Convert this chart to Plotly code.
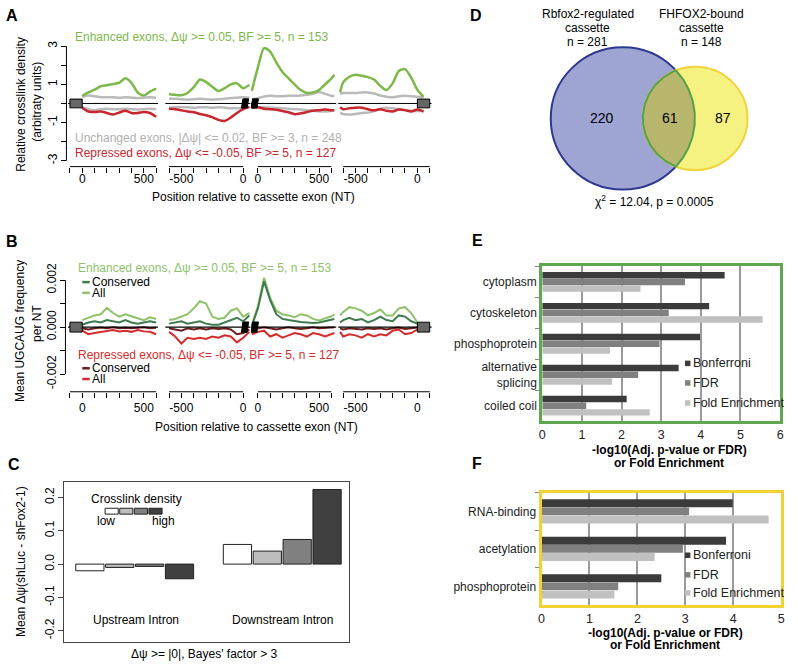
import numpy as np
import plotly.graph_objects as go

W, H = 798, 666
FONT = "Arial, Liberation Sans, Helvetica, sans-serif"

# ======================= DATA =======================
# ---- Panel A: relative crosslink density, four intronic windows (nt) ----
A_X1 = [0, 50, 100, 150, 200, 250, 300, 350, 400, 450, 500, 550, 600]
A_X2 = [-600, -550, -500, -450, -400, -350, -300, -250, -200, -150, -100, -50, 0, 50]
A_X3 = [-50, 0, 50, 100, 150, 200, 250, 300, 350, 400, 450, 500, 550, 600, 625]
A_X4 = [-625, -600, -550, -500, -450, -400, -350, -300, -250, -200, -150, -100, -50, 0, 50]

A_ENH_1 = [0.40, 0.58, 0.72, 0.90, 0.95, 1.02, 1.08, 1.32, 1.08, 0.58, 0.42, 0.62, 0.78]
A_UNC_UP_1 = [0.35, 0.42, 0.38, 0.33, 0.32, 0.33, 0.30, 0.32, 0.30, 0.28, 0.30, 0.32, 0.30]
A_UNC_DN_1 = [-0.20, -0.30, -0.35, -0.30, -0.28, -0.30, -0.30, -0.28, -0.30, -0.32, -0.30, -0.28, -0.30]
A_REP_1 = [-0.22, -0.42, -0.45, -0.42, -0.50, -0.58, -0.48, -0.38, -0.50, -0.50, -0.45, -0.50, -0.70]

A_ENH_2 = [0.50, 0.45, 0.43, 0.55, 0.85, 1.25, 1.12, 0.88, 0.65, 0.80, 1.00, 1.05, 0.80, 0.98]
A_UNC_UP_2 = [0.25, 0.25, 0.22, 0.20, 0.22, 0.25, 0.22, 0.20, 0.22, 0.25, 0.28, 0.30, 0.32, 0.30]
A_UNC_DN_2 = [-0.22, -0.20, -0.18, -0.20, -0.22, -0.20, -0.20, -0.22, -0.20, -0.22, -0.25, -0.25, -0.22, -0.20]
A_REP_2 = [-0.28, -0.30, -0.36, -0.42, -0.46, -0.55, -0.62, -0.72, -0.86, -0.92, -0.74, -0.50, -0.30, -0.18]

A_ENH_3 = [0.65, 1.90, 2.90, 2.72, 2.15, 1.65, 1.32, 1.00, 0.70, 0.55, 0.58, 0.70, 1.00, 1.30, 1.50]
A_UNC_UP_3 = [0.20, 0.28, 0.36, 0.40, 0.38, 0.38, 0.40, 0.40, 0.42, 0.45, 0.50, 0.60, 0.50, 0.40, 0.38]
A_UNC_DN_3 = [-0.18, -0.20, -0.20, -0.22, -0.24, -0.25, -0.28, -0.30, -0.32, -0.35, -0.38, -0.42, -0.42, -0.38, -0.36]
A_REP_3 = [-0.20, -0.20, -0.28, -0.30, -0.33, -0.40, -0.46, -0.56, -0.52, -0.45, -0.38, -0.35, -0.32, -0.35, -0.36]

A_ENH_4 = [0.58, 1.10, 1.40, 1.50, 1.45, 1.38, 1.25, 0.92, 0.70, 1.05, 1.70, 1.80, 1.35, 0.72, 0.35]
A_UNC_UP_4 = [0.50, 0.55, 0.55, 0.55, 0.58, 0.58, 0.52, 0.42, 0.35, 0.32, 0.38, 0.40, 0.38, 0.35, 0.32]
A_UNC_DN_4 = [-0.50, -0.55, -0.58, -0.55, -0.50, -0.48, -0.40, -0.28, -0.22, -0.25, -0.30, -0.35, -0.38, -0.40, -0.40]
A_REP_4 = [-0.20, -0.30, -0.25, -0.22, -0.22, -0.30, -0.36, -0.30, -0.38, -0.42, -0.32, -0.35, -0.42, -0.32, -0.42]

# ---- Panel B: mean UGCAUG frequency per nt (values in units of 1e-3) ----
B_X1 = [0, 50, 100, 150, 200, 250, 300, 350, 400, 450, 500, 550, 600]
B_X2 = [-600, -550, -500, -450, -400, -350, -300, -250, -200, -150, -100, -50, 0, 50]
B_X3 = [-50, 0, 50, 100, 150, 200, 250, 300, 350, 400, 450, 500, 550, 600, 625]
B_X4 = [-625, -600, -550, -500, -450, -400, -350, -300, -250, -200, -150, -100, -50, 0]

B_ENH_ALL_1 = [0.30, 0.40, 0.50, 0.55, 0.82, 0.60, 0.45, 0.55, 0.45, 0.38, 0.30, 0.42, 0.35]
B_ENH_CON_1 = [0.10, 0.20, 0.25, 0.20, 0.30, 0.25, 0.20, 0.30, 0.20, 0.15, 0.20, 0.25, 0.20]
B_REP_ALL_1 = [-0.15, -0.30, -0.25, -0.20, -0.15, -0.12, -0.18, -0.15, -0.20, -0.12, -0.18, -0.20, -0.30]
B_REP_CON_1 = [-0.05, -0.10, -0.05, -0.02, -0.05, 0.00, -0.05, -0.03, -0.05, -0.02, 0.00, -0.05, -0.03]

B_ENH_ALL_2 = [0.30, 0.35, 0.45, 0.55, 0.80, 1.10, 1.00, 0.45, 0.35, 0.40, 0.70, 0.80, 0.45, 0.60]
B_ENH_CON_2 = [0.15, 0.20, 0.25, 0.15, 0.20, 0.25, 0.15, 0.10, 0.10, 0.20, 0.30, 0.40, 0.25, 0.50]
B_REP_ALL_2 = [-0.20, -0.40, -0.70, -0.45, -0.50, -0.45, -0.50, -0.40, -0.45, -0.35, -0.40, -0.65, -0.45, -0.20]
B_REP_CON_2 = [-0.05, -0.10, -0.15, -0.05, -0.10, -0.05, -0.10, -0.05, -0.08, -0.05, -0.10, -0.30, -0.25, -0.10]

B_ENH_ALL_3 = [0.10, 0.90, 2.10, 1.25, 0.70, 0.55, 0.50, 0.42, 0.55, 0.50, 0.35, 0.28, 0.38, 0.45, 0.55]
B_ENH_CON_3 = [0.05, 0.80, 1.95, 1.15, 0.55, 0.35, 0.30, 0.25, 0.22, 0.20, 0.18, 0.20, 0.25, 0.30, 0.35]
B_REP_ALL_3 = [-0.30, -0.20, -0.15, -0.40, -0.30, -0.45, -0.35, -0.25, -0.30, -0.40, -0.25, -0.30, -0.40, -0.30, -0.25]
B_REP_CON_3 = [-0.10, -0.05, 0.00, -0.05, -0.10, -0.05, 0.00, -0.05, -0.08, -0.05, 0.00, -0.05, -0.05, -0.02, 0.00]

B_ENH_ALL_4 = [0.50, 0.65, 0.85, 0.80, 0.70, 0.50, 0.60, 0.75, 0.50, 0.50, 0.80, 0.85, 0.60, 0.20]
B_ENH_CON_4 = [0.20, 0.30, 0.40, 0.30, 0.35, 0.20, 0.30, 0.45, 0.30, 0.25, 0.50, 0.45, 0.25, 0.15]
B_REP_ALL_4 = [-0.20, -0.40, -0.30, -0.35, -0.45, -0.30, -0.40, -0.30, -0.35, -0.15, -0.10, -0.30, -0.25, -0.10]
B_REP_CON_4 = [-0.05, -0.10, -0.05, -0.08, -0.10, -0.05, -0.08, -0.05, -0.10, -0.05, -0.02, -0.08, -0.05, -0.02]
B_UNIT = 1e-3

# ---- Panel C: mean delta-psi by crosslink density quartile ----
C_GROUPS = ["Upstream Intron", "Downstream Intron"]
C_Q1 = [-0.020, 0.059]
C_Q2 = [-0.010, 0.039]
C_Q3 = [-0.007, 0.074]
C_Q4 = [-0.044, 0.224]

# ---- Panel D: Venn counts ----
D_REGULATED = 281
D_BOUND = 148
D_ONLY_REG = 220
D_BOTH = 61
D_ONLY_BOUND = 87

# ---- Panel E / F: GO enrichment ----
E_TERMS = ["cytoplasm", "cytoskeleton", "phosphoprotein", "alternative<br>splicing", "coiled coil"]
E_BONF = [4.60, 4.21, 3.98, 3.44, 2.13]
E_FDR = [3.60, 3.19, 2.96, 2.42, 1.11]
E_FOLD = [2.48, 5.56, 1.71, 1.76, 2.71]

F_TERMS = ["RNA-binding", "acetylation", "phosphoprotein"]
F_BONF = [3.99, 3.85, 2.50]
F_FDR = [3.08, 2.95, 1.60]
F_FOLD = [4.74, 2.36, 1.52]

SERIES_NAMES = ["Bonferroni", "FDR", "Fold Enrichment"]

# ======================= STYLE =======================
A_GREEN, A_GREY, A_RED = "#7cb84a", "#bababa", "#c9262d"
B_G_ALL, B_G_CON, B_R_ALL, B_R_CON = "#8dc26a", "#3e7a4c", "#d42b2b", "#6b1d1d"
C_COLORS = ["#ffffff", "#bdbdbd", "#808080", "#404040"]
EF_COLORS = ["#3b3b3b", "#808080", "#c0c0c0"]


def PX(px):
    return px / W


def PY(py):
    return 1 - py / H


fig = go.Figure()
layout = dict(width=W, height=H, margin=dict(l=0, r=0, t=0, b=0),
              paper_bgcolor="white", plot_bgcolor="white", showlegend=False,
              barmode="overlay", font=dict(family=FONT, size=12, color="black"))
shapes, ann = [], []


def text(px, py, s, size=12, color="black", xa="center", ya="middle", angle=0):
    ann.append(dict(x=PX(px), y=PY(py), xref="paper", yref="paper", text=s, showarrow=False,
                    xanchor=xa, yanchor=ya, textangle=angle, borderpad=0,
                    font=dict(size=size, color=color, family=FONT)))


# ---------- segment axes geometry (shared by A and B) ----------
SEG_TICK_NT = [(-100, 600), (-600, 0), (0, 600), (-600, 100)]
SEG_TICK_PX = [(67.5, 154.5), (167.5, 242.3), (257.2, 331.2), (343.2, 430.5)]
SEG_RANGE = [(-115, 615), (-630, 55), (-60, 640), (-640, 115)]


def seg_domain(i):
    (n0, n1), (p0, p1), (r0, r1) = SEG_TICK_NT[i], SEG_TICK_PX[i], SEG_RANGE[i]
    k = (p1 - p0) / (n1 - n0)
    return [PX(p0 + (r0 - n0) * k), PX(p0 + (r1 - n0) * k)]


def seg_axes(first_idx, yname, axis_py, y_half_box, y_half_mark, zero_w, standoff):
    for i in range(4):
        n = first_idx + i
        key = "xaxis" if n == 1 else f"xaxis{n}"
        ref = "x" if n == 1 else f"x{n}"
        t0, t1 = SEG_TICK_NT[i]
        tv = [v for v in (-500, 0, 500) if t0 <= v <= t1]
        layout[key] = dict(domain=seg_domain(i), range=list(SEG_RANGE[i]), anchor="free",
                           position=PY(axis_py), tickmode="array", tickvals=tv,
                           ticktext=[str(v) for v in tv], ticklabelstandoff=standoff,
                           ticks="outside", ticklen=5, tickwidth=1, tickcolor="black",
                           minor=dict(tick0=0, dtick=100, ticks="outside", ticklen=5,
                                      tickwidth=1, tickcolor="black", showgrid=False),
                           showline=False, showgrid=False, zeroline=False,
                           tickfont=dict(size=12, color="black"))
        shapes.append(dict(type="line", xref=ref, yref="paper", x0=t0, x1=t1,
                           y0=PY(axis_py), y1=PY(axis_py), line=dict(color="black", width=1)))
        shapes.append(dict(type="line", xref=f"{ref} domain", yref=yname, x0=0, x1=1, y0=0, y1=0,
                           line=dict(color="black", width=zero_w)))
        if i == 0:
            shapes.append(dict(type="rect", xref=ref, yref=yname, x0=-100, x1=0,
                               y0=-y_half_box, y1=y_half_box, fillcolor="#666666",
                               line=dict(color="black", width=1)))
        if i == 3:
            shapes.append(dict(type="rect", xref=ref, yref=yname, x0=0, x1=100,
                               y0=-y_half_box, y1=y_half_box, fillcolor="#666666",
                               line=dict(color="black", width=1)))
        if i == 1:
            h = y_half_mark
            shapes.append(dict(type="path", xref=ref, yref=yname, fillcolor="black",
                               line=dict(color="black", width=1),
                               path=f"M -14,{-h} L 32,{-h} L 44,{h} L -2,{h} Z"))
        if i == 2:
            h = y_half_mark
            shapes.append(dict(type="path", xref=ref, yref=yname, fillcolor="black",
                               line=dict(color="black", width=1),
                               path=f"M -56,{-h} L -8,{-h} L 4,{h} L -44,{h} Z"))


# ======================= PANEL A =======================
seg_axes(1, "y", 162, 0.23, 0.24, 1, -4)
layout["yaxis"] = dict(domain=[PY(161.85), PY(33.15)], range=[-3.3, 3.3], anchor="free",
                       position=PX(64), tickmode="array", tickvals=[-3, -1, 1, 3],
                       ticktext=["-3", "-1", "1", "3"], ticks="outside", ticklen=5,
                       tickcolor="black", tickangle=-90, showline=False, showgrid=False,
                       minor=dict(tick0=0, dtick=1, ticks="outside", ticklen=5,
                                  tickcolor="black", showgrid=False),
                       zeroline=False, tickfont=dict(size=12, color="black"))
shapes.append(dict(type="line", xref="paper", yref="y", x0=PX(64), x1=PX(64), y0=-3, y1=3,
                   line=dict(color="black", width=1)))

A_SEGS = [(A_X1, A_ENH_1, A_UNC_UP_1, A_UNC_DN_1, A_REP_1),
          (A_X2, A_ENH_2, A_UNC_UP_2, A_UNC_DN_2, A_REP_2),
          (A_X3, A_ENH_3, A_UNC_UP_3, A_UNC_DN_3, A_REP_3),
          (A_X4, A_ENH_4, A_UNC_UP_4, A_UNC_DN_4, A_REP_4)]
for i, (xs, enh, uup, udn, rep) in enumerate(A_SEGS):
    xr = "x" if i == 0 else f"x{i + 1}"
    for ys, col in [(uup, A_GREY), (udn, A_GREY), (enh, A_GREEN), (rep, A_RED)]:
        fig.add_trace(go.Scatter(x=xs, y=ys, xaxis=xr, yaxis="y", mode="lines",
                                 line=dict(color=col, width=2.5, shape="spline", smoothing=0.7),
                                 hoverinfo="skip"))

text(2, 8, "<b>A</b>", size=16, xa="left")
text(72, 30, "Enhanced exons, Δψ >= 0.05, BF >= 5, n = 153", color=A_GREEN, xa="left")
text(72, 133, "Unchanged exons, |Δψ| <= 0.02, BF >= 3, n = 248", color="#b0b0b0", xa="left")
text(72, 148, "Repressed exons, Δψ <= -0.05, BF >= 5, n = 127", color=A_RED, xa="left")
text(253, 193, "Position relative to cassette exon (NT)")
text(18, 98, "Relative crosslink density", angle=-90)
text(34, 96, "(arbitraty units)", angle=-90)

# ======================= PANEL B =======================
seg_axes(5, "y2", 392, 0.21 * B_UNIT, 0.22 * B_UNIT, 1.2, 0)
layout["yaxis2"] = dict(domain=[PY(383.6), PY(268.4)], range=[-2.4 * B_UNIT, 2.4 * B_UNIT],
                        anchor="free", position=PX(63), tickmode="array",
                        tickvals=[-0.002, 0, 0.002],
                        ticktext=["-0.002", "0.000", "0.002"], ticks="outside",
                        ticklen=5, tickcolor="black", tickangle=-90, showline=False,
                        minor=dict(tick0=0, dtick=0.001, ticks="outside", ticklen=5,
                                   tickcolor="black", showgrid=False),
                        showgrid=False, zeroline=False, tickfont=dict(size=12, color="black"))
shapes.append(dict(type="line", xref="paper", yref="y2", x0=PX(63), x1=PX(63), y0=-0.002,
                   y1=0.002, line=dict(color="black", width=1)))

B_SEGS = [(B_X1, B_ENH_ALL_1, B_ENH_CON_1, B_REP_ALL_1, B_REP_CON_1),
          (B_X2, B_ENH_ALL_2, B_ENH_CON_2, B_REP_ALL_2, B_REP_CON_2),
          (B_X3, B_ENH_ALL_3, B_ENH_CON_3, B_REP_ALL_3, B_REP_CON_3),
          (B_X4, B_ENH_ALL_4, B_ENH_CON_4, B_REP_ALL_4, B_REP_CON_4)]
for i, (xs, eall, econ, rall, rcon) in enumerate(B_SEGS):
    xr = f"x{i + 5}"
    for ys, col in [(eall, B_G_ALL), (econ, B_G_CON), (rall, B_R_ALL), (rcon, B_R_CON)]:
        fig.add_trace(go.Scatter(x=xs, y=np.array(ys) * B_UNIT, xaxis=xr, yaxis="y2",
                                 mode="lines", line=dict(color=col, width=2),
                                 hoverinfo="skip"))

text(2, 239, "<b>B</b>", size=16, xa="left")
text(75, 266, "Enhanced exons, Δψ >= 0.05, BF >= 5, n = 153", color=B_G_ALL, xa="left")
text(75, 354, "Repressed exons, Δψ <= -0.05, BF >= 5, n = 127", color=B_R_ALL, xa="left")
for py, col, lab in [(280, B_G_CON, "Conserved"), (291, B_G_ALL, "All"),
                     (368, B_R_CON, "Conserved"), (379, B_R_ALL, "All")]:
    shapes.append(dict(type="line", xref="paper", yref="paper", x0=PX(80), x1=PX(87.5),
                       y0=PY(py), y1=PY(py), line=dict(color=col, width=2.5)))
    text(89, py, lab, size=12, xa="left")
text(256, 428, "Position relative to cassette exon (NT)")
text(17, 330, "Mean UGCAUG frequency", angle=-90)
text(35, 322, "per NT", angle=-90)

# ======================= PANEL C =======================
C_SLOT = 0.2025
C_W = C_SLOT * 0.945
for j, (vals, col) in enumerate(zip([C_Q1, C_Q2, C_Q3, C_Q4], C_COLORS)):
    fig.add_trace(go.Bar(x=C_GROUPS, y=vals, xaxis="x9", yaxis="y3", width=C_W,
                         offset=-2 * C_SLOT + j * C_SLOT + (C_SLOT - C_W) / 2,
                         marker=dict(color=col, line=dict(color="#222222", width=1)),
                         hoverinfo="skip"))
layout["xaxis9"] = dict(domain=[PX(62), PX(349)], range=[-0.476, 1.452], anchor="y3",
                        type="category", showticklabels=False, ticks="", showgrid=False,
                        zeroline=False, showline=True, mirror=True, linecolor="#444444",
                        linewidth=1)
layout["yaxis3"] = dict(domain=[PY(648), PY(484)], range=[-0.235, 0.247], anchor="x9",
                        tickmode="array", tickvals=[-0.2, -0.1, 0, 0.1, 0.2],
                        ticktext=["-0.2", "-0.1", "0.0", "0.1", "0.2"], ticks="outside",
                        ticklen=5, tickcolor="#444444", tickangle=-90, showgrid=False,
                        zeroline=False, showline=True, mirror=True, linecolor="#444444",
                        linewidth=1, tickfont=dict(size=12, color="black"))
text(4, 466, "<b>C</b>", size=16, xa="left")
text(135, 502, "Crosslink density")
for j, col in enumerate(C_COLORS):
    shapes.append(dict(type="rect", xref="paper", yref="paper",
                       x0=PX(103 + j * 14.75), x1=PX(103 + (j + 1) * 14.75 - 1.5),
                       y0=PY(517), y1=PY(511), fillcolor=col,
                       line=dict(color="#222222", width=1)))
text(104, 524, "low")
text(162, 524, "high")
for g, cx in zip(C_GROUPS, [134.5, 282.2]):
    text(cx, 625, g)
text(203, 660, "Δψ >= |0|, Bayes' factor > 3")
text(18, 565, "Mean Δψ(shLuc - shFox2-1)", angle=-90)

# ======================= PANEL D =======================
VENN_PX_PER_SQRT = 4.337
VENN_DIST = 73.0
r1 = VENN_PX_PER_SQRT * np.sqrt(D_REGULATED)
r2 = VENN_PX_PER_SQRT * np.sqrt(D_BOUND)
c1 = (625.3, 112.8)
c2 = (c1[0] + VENN_DIST, c1[1])
layout["xaxis10"] = dict(domain=[PX(540), PX(770)], range=[540, 770], anchor="y4", visible=False)
layout["yaxis4"] = dict(domain=[PY(200), PY(25)], range=[200, 25], anchor="x10", visible=False)
shapes.append(dict(type="circle", xref="x10", yref="y4", layer="below",
                   x0=c1[0] - r1, x1=c1[0] + r1, y0=c1[1] - r1, y1=c1[1] + r1,
                   fillcolor="#9ea5d2", line=dict(color="#2d3990", width=2)))
shapes.append(dict(type="circle", xref="x10", yref="y4", layer="below",
                   x0=c2[0] - r2, x1=c2[0] + r2, y0=c2[1] - r2, y1=c2[1] + r2,
                   fillcolor="#f6f282", line=dict(color="#f0d33a", width=2)))
d = VENN_DIST
a = (d * d + r1 * r1 - r2 * r2) / (2 * d)
h = np.sqrt(r1 * r1 - a * a)
t1 = np.arctan2(h, a)
t2 = np.arctan2(h, d - a)
ang1 = np.linspace(-t1, t1, 80)
ang2 = np.linspace(np.pi - t2, np.pi + t2, 80)
lx = np.concatenate([c1[0] + r1 * np.cos(ang1), c2[0] + r2 * np.cos(ang2)])
ly = np.concatenate([c1[1] + r1 * np.sin(ang1), c2[1] + r2 * np.sin(ang2)])
fig.add_trace(go.Scatter(x=lx, y=ly, xaxis="x10", yaxis="y4", mode="lines", fill="toself",
                         fillcolor="#b8b66c", line=dict(color="#55a04a", width=2),
                         hoverinfo="skip"))
text(470, 8, "<b>D</b>", size=16, xa="left")
text(590, 6, "Rbfox2-regulated")
text(590, 20.5, "cassette")
text(590, 34.5, f"n = {D_REGULATED}")
text(705, 6, "FHFOX2-bound")
text(705, 20.5, "cassette")
text(705, 34.5, f"n = {D_BOUND}")
text(604, 112, str(D_ONLY_REG), size=14)
text(673, 112, str(D_BOTH), size=14)
text(726, 112, str(D_ONLY_BOUND), size=14)
text(657, 197, "χ<sup>2</sup> = 12.04, p = 0.0005")


# ======================= PANELS E & F =======================
def go_panel(xa, ya, terms, series, x_dom, y_dom, xmax, border):
    bw = 0.65 / 3
    for j, (vals, col) in enumerate(zip(series, EF_COLORS)):
        fig.add_trace(go.Bar(y=terms, x=vals, orientation="h", xaxis=xa, yaxis=ya,
                             width=bw * 0.96, offset=-0.325 + j * bw + bw * 0.02,
                             marker=dict(color=col, line=dict(width=0)),
                             name=SERIES_NAMES[j], hoverinfo="skip"))
    xk = "xaxis" + xa[1:]
    yk = "yaxis" + ya[1:]
    layout[xk] = dict(domain=x_dom, range=[0, xmax], anchor=ya, tickmode="array",
                      tickvals=list(range(0, xmax + 1)), ticks="", showgrid=True,
                      gridcolor="#9a9a9a", gridwidth=1.5, zeroline=False, showline=True,
                      mirror=True, linecolor=border, linewidth=3,
                      tickfont=dict(size=12.5, color="#222222"))
    layout[yk] = dict(domain=y_dom, type="category", range=[len(terms) - 0.5, -0.5],
                      anchor=xa, ticks="outside", tickson="boundaries", ticklen=4,
                      tickcolor="#888888", showgrid=False, zeroline=False, showline=True,
                      mirror=True, linecolor=border, linewidth=3,
                      tickfont=dict(size=12, color="#222222"))


go_panel("x11", "y5", E_TERMS, [E_BONF, E_FDR, E_FOLD], [PX(544), PX(784)],
         [PY(422), PY(264)], 6, "#5fa84f")
go_panel("x12", "y6", F_TERMS, [F_BONF, F_FDR, F_FOLD], [PX(543.3), PX(785)],
         [PY(610), PY(495)], 5, "#f2d232")

text(472, 238, "<b>E</b>", size=16, xa="left")
text(472, 465, "<b>F</b>", size=16, xa="left")
for legend_pys in ([363, 383, 403.5], [559, 579, 597.5]):
    for j, py in enumerate(legend_pys):
        shapes.append(dict(type="rect", xref="paper", yref="paper", x0=PX(688), x1=PX(693.5),
                           y0=PY(py + 2.8), y1=PY(py - 2.8), fillcolor=EF_COLORS[j],
                           line=dict(width=0)))
        text(695, py, SERIES_NAMES[j], size=12.5, color="#222222", xa="left")
text(672, 452, "<b>-log10(Adj. p-value or FDR)</b>")
text(672, 464.5, "<b>or Fold Enrichment</b>")
text(668, 638.5, "<b>-log10(Adj. p-value or FDR)</b>")
text(668, 651, "<b>or Fold Enrichment</b>")

layout["shapes"] = shapes
layout["annotations"] = ann
fig.update_layout(**layout)
fig.write_html("out.html", config={"displayModeBar": False},
               post_script="document.body.style.margin='0px';")
